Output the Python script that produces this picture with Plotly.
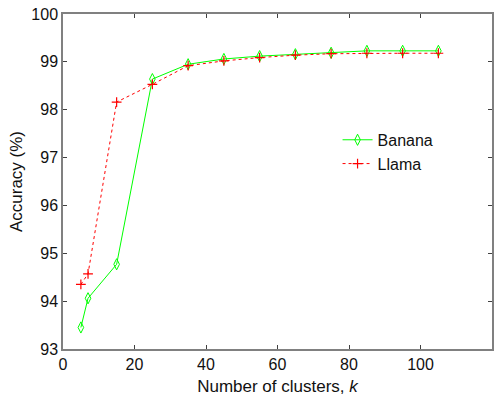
import plotly.graph_objects as go

clusters = [5, 7, 15, 25, 35, 45, 55, 65, 75, 85, 95, 105]
banana = [93.45, 94.06, 94.77, 98.64, 98.95, 99.06, 99.12, 99.16, 99.19, 99.23, 99.23, 99.23]
llama = [94.35, 94.57, 98.16, 98.53, 98.92, 99.02, 99.09, 99.14, 99.17, 99.18, 99.18, 99.18]
x_ticks = [0, 20, 40, 60, 80, 100, 120]
y_ticks = [93, 94, 95, 96, 97, 98, 99, 100]

FONT = "Liberation Sans, Arial"

fig = go.Figure()
fig.add_trace(go.Scatter(
    x=clusters, y=banana, name="Banana", mode="lines+markers",
    line=dict(color="#00ff00", width=1),
    marker=dict(symbol="diamond-tall-open", size=8, color="#00ff00", line=dict(width=1)),
))
fig.add_trace(go.Scatter(
    x=clusters, y=llama, name="Llama", mode="lines+markers",
    line=dict(color="#ff0000", width=1, dash="dot"),
    marker=dict(symbol="cross-thin-open", size=7, color="#ff0000", line=dict(width=1.2, color="#ff0000")),
))

axis_common = dict(
    showgrid=False, zeroline=False, showline=True, linecolor="#808080", linewidth=1.5,
    mirror="ticks", ticks="inside", ticklen=4, tickcolor="#404040",
    tickfont=dict(family=FONT, size=16, color="#111111"),
)
fig.update_xaxes(range=[0, 120], tickvals=x_ticks, **axis_common,
                 title=dict(text="Number of clusters, <i>k</i>",
                            font=dict(family=FONT, size=17, color="#111111"),
                            standoff=8))
fig.update_yaxes(range=[93, 100], tickvals=y_ticks, **axis_common,
                 title=dict(text="Accuracy (%)",
                            font=dict(family=FONT, size=17, color="#111111"),
                            standoff=4))

fig.update_layout(
    width=500, height=401,
    margin=dict(l=63, r=6, t=10, b=52),
    paper_bgcolor="white", plot_bgcolor="white",
    legend=dict(x=0.64, y=0.675, xanchor="left", yanchor="top",
                font=dict(family=FONT, size=16, color="#111111"),
                bgcolor="rgba(0,0,0,0)", tracegroupgap=0),
    showlegend=True,
)
fig.write_html("out.html")
